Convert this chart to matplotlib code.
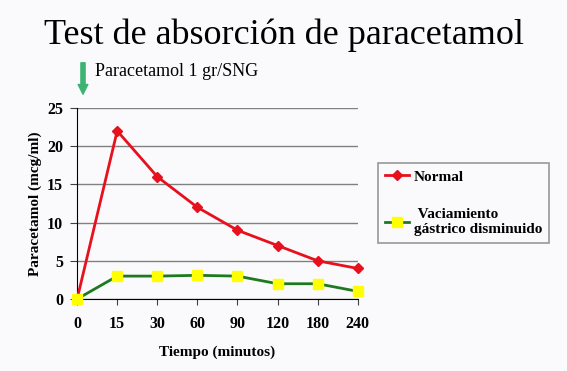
import numpy as np
import matplotlib
matplotlib.use("Agg")
from matplotlib import pyplot as plt

tiempos = ["0", "15", "30", "60", "90", "120", "180", "240"]
normal = [0, 22, 16, 12, 9, 7, 5, 4]
vaciamiento = [0, 3, 3, 3.1, 3, 2, 2, 1]

plt.rcParams['font.family'] = ['Liberation Serif', 'DejaVu Serif']

bg = '#fafafc'
fig = plt.figure(figsize=(5.67, 3.71), dpi=100, facecolor=bg)
ax = fig.add_axes([0.136, 0.194, 0.495, 0.515], facecolor=bg)

x = np.arange(len(tiempos))
ax.plot(x, normal, color='#e8101c', lw=2, marker='D', ms=5.5,
        label="Normal", clip_on=False, zorder=3)
ax.plot(x, vaciamiento, color='#1f7a1f', lw=2, marker='s', ms=7,
        mfc='#ffff00', mec='#ffff00', label=" Vaciamiento\ngástrico disminuido",
        clip_on=False, zorder=3)

ax.set_xlim(0, 7)
ax.set_ylim(0, 25)
ax.set_xticks(x)
ax.set_xticklabels(tiempos)
ax.set_yticks([0, 5, 10, 15, 20, 25])
ax.yaxis.grid(True, color='#808080', lw=1)
ax.set_axisbelow(True)
for s in ['top', 'right']:
    ax.spines[s].set_visible(False)
ax.tick_params(axis='x', labelsize=11.5, length=4, pad=8, color='#404040')
ax.tick_params(axis='y', labelsize=11.5, length=5, pad=5, color='#404040')
for lab in ax.get_xticklabels() + ax.get_yticklabels():
    lab.set_fontweight('bold')

ax.set_xlabel("Tiempo (minutos)", fontsize=11, fontweight='bold', labelpad=10)
ax.set_ylabel("Paracetamol (mcg/ml)", fontsize=11, fontweight='bold', labelpad=4)

leg = ax.legend(loc='upper left', bbox_to_anchor=(1.071, 0.712), frameon=True,
                fancybox=False, edgecolor='#808080', facecolor=bg,
                prop={'weight': 'bold', 'size': 11}, handlelength=1.6,
                handletextpad=0.3, labelspacing=1.6, borderpad=0.45,
                borderaxespad=0)
leg.get_frame().set_linewidth(1.2)

fig.text(0.5, 0.905, "Test de absorción de paracetamol", ha='center', va='center',
         fontsize=26)
ax.annotate("", xy=(83 / 567, 1 - 97 / 371), xycoords='figure fraction',
            xytext=(83 / 567, 1 - 60 / 371), textcoords='figure fraction',
            arrowprops=dict(arrowstyle='simple,head_width=0.7,head_length=0.7,tail_width=0.3',
                            color='#3cb371'))
fig.text(95 / 567, 1 - 72 / 371, "Paracetamol 1 gr/SNG", ha='left', va='center',
         fontsize=13)

fig.savefig("out.png", dpi=100, facecolor=bg)
